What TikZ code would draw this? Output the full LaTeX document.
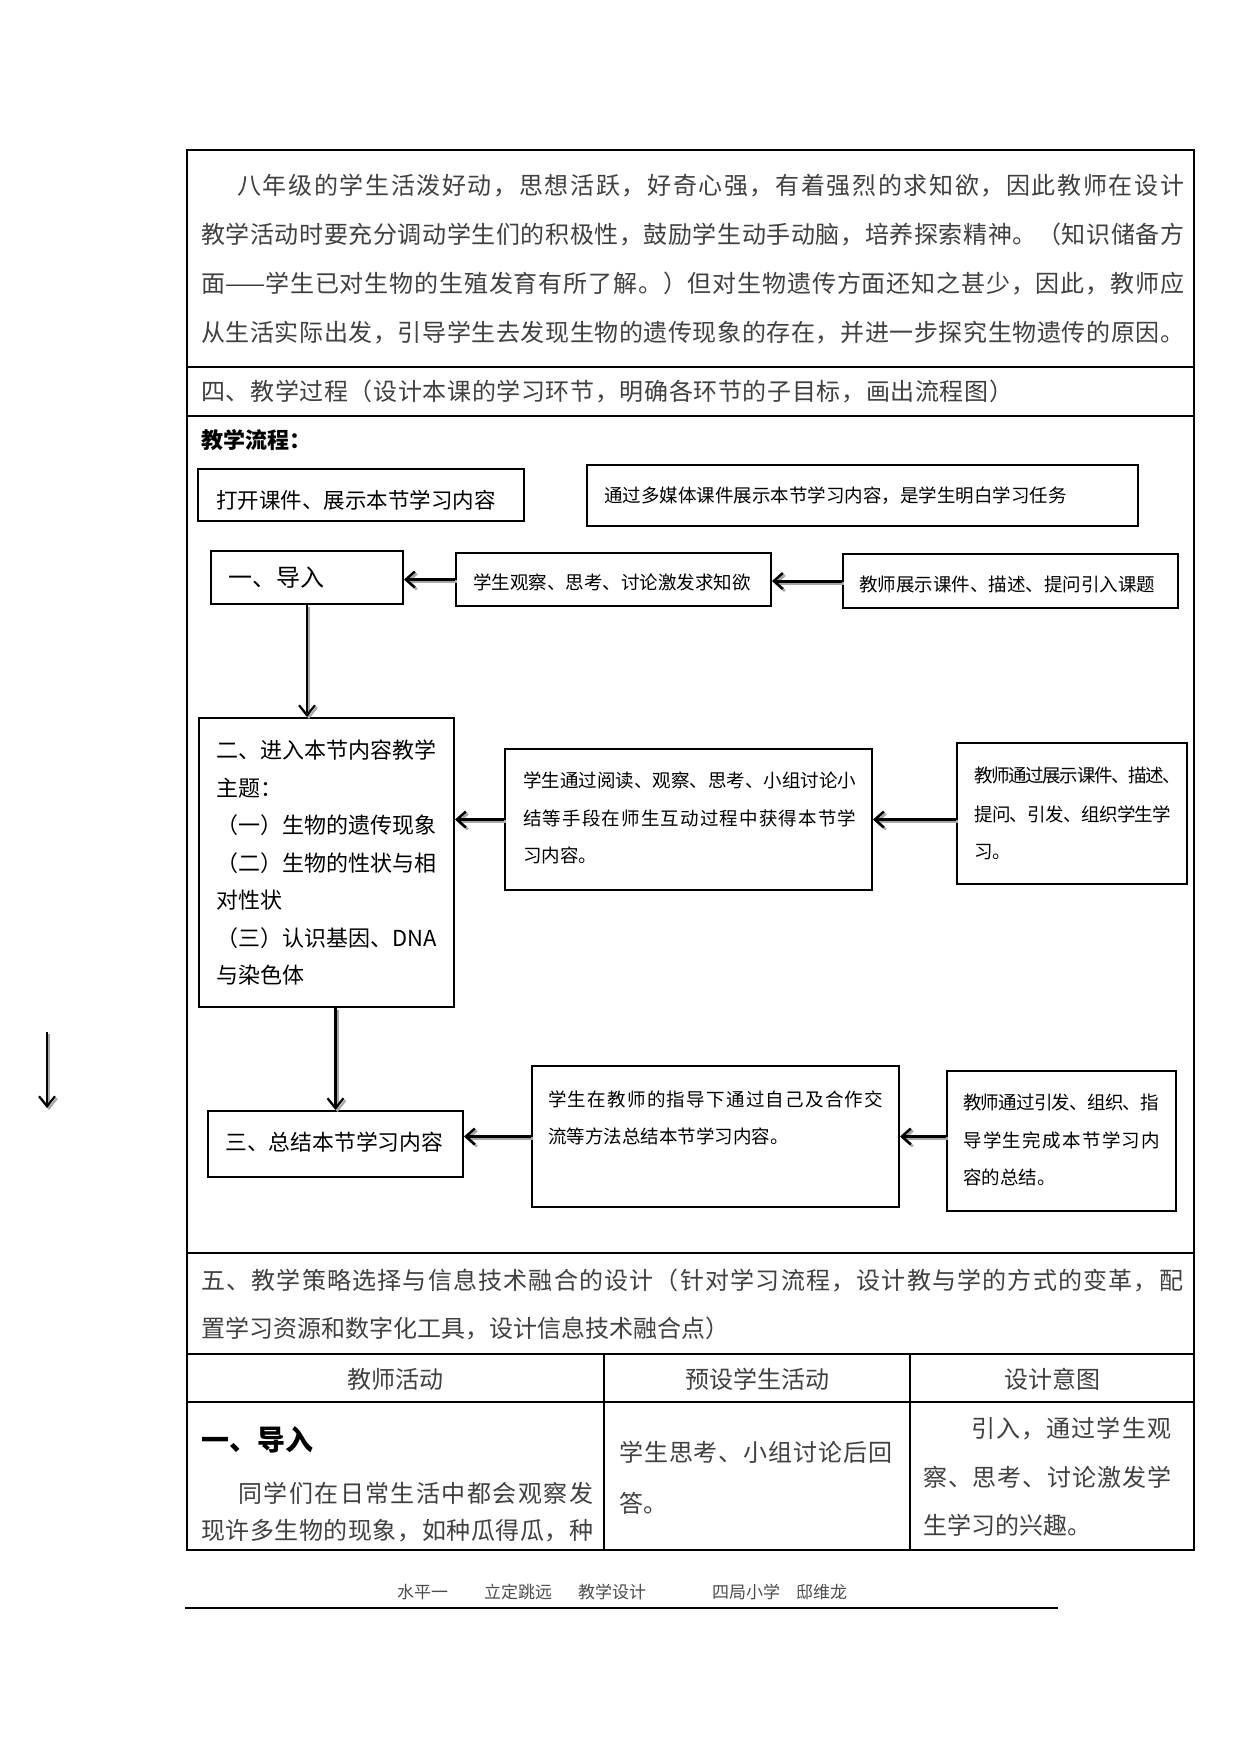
\documentclass[tikz,border=0pt]{standalone}
\usepackage{fontspec}
\setmainfont{Noto Sans CJK SC}
\usetikzlibrary{arrows.meta}
\XeTeXinterchartokenstate=1
\newXeTeXintercharclass\cjkcls
\newcount\cjkc
\def\setcjkrange#1#2{\cjkc=#1\relax\loop\XeTeXcharclass\cjkc=\cjkcls\relax\ifnum\cjkc<#2\relax\advance\cjkc by 1\repeat}
\setcjkrange{"3000}{"303F}
\setcjkrange{"4E00}{"9FFF}
\setcjkrange{"FF00}{"FFEF}
\XeTeXinterchartoks\cjkcls\cjkcls={\hskip 0pt plus 0.5em minus 0.25em\relax}
\newcommand\jl[2]{\makebox[#1pt][s]{#2}}
\newcommand\sarr[2]{\draw[arrshadow,transform canvas={xshift=2pt,yshift=-2pt}] #1 -- #2; \draw[arrmain] #1 -- #2;}
\newcommand\varr[2]{\draw[varrshadow,transform canvas={xshift=2pt,yshift=-2pt}] #1 -- #2; \draw[varrmain] #1 -- #2;}
\begin{document}
\begin{tikzpicture}[x=1pt,y=-1pt,
  every node/.style={inner sep=0pt},
  tl/.style={anchor=west,font=\fontsize{24}{24}\selectfont,text=black!75},
  hd/.style={anchor=center,font=\fontsize{24}{24}\selectfont,text=black!75},
  fl/.style={anchor=west,font=\fontsize{18.5}{18.5}\selectfont,text=black},
  ml/.style={anchor=west,font=\fontsize{22}{22}\selectfont,text=black},
  ft/.style={anchor=west,font=\fontsize{17}{17}\selectfont,text=black!70},
  flowbox/.style={draw=black,line width=2pt},
  tab/.style={draw=black,line width=1.5pt},
  arrmain/.style={line width=3pt,black,-{Straight Barb[length=9pt,width=16pt,line width=2.5pt]}},
  arrshadow/.style={line width=3pt,black!35,-{Straight Barb[length=9pt,width=16pt,line width=2.5pt]}},
  varrmain/.style={line width=2.2pt,black,-{Straight Barb[length=10pt,width=16pt,line width=2.2pt]}},
  varrshadow/.style={line width=2.2pt,black!35,-{Straight Barb[length=10pt,width=16pt,line width=2.2pt]}}
]
\fill[white] (0,0) rectangle (1241,1754);
\useasboundingbox (0,0) rectangle (1241,1754);

% table grid
\draw[tab] (187,150) rectangle (1194,1550);
\draw[tab] (187,367) -- (1194,367);
\draw[tab] (187,416) -- (1194,416);
\draw[tab] (187,1253) -- (1194,1253);
\draw[tab] (187,1354) -- (1194,1354);
\draw[tab] (187,1402) -- (1194,1402);
\draw[tab] (604,1354) -- (604,1550);
\draw[tab] (910,1354) -- (910,1550);

% paragraph
\node[tl] (p1) at (237,186) {\jl{947}{八年级的学生活泼好动，思想活跃，好奇心强，有着强烈的求知欲，因此教师在设计}};
\node[tl] (p2) at (201,235) {\jl{983}{教学活动时要充分调动学生们的积极性，鼓励学生动手动脑，培养探索精神。（知识储备方}};
\node[tl] (p3) at (201,284) {\jl{983}{面——学生已对生物的生殖发育有所了解。）但对生物遗传方面还知之甚少，因此，教师应}};
\node[tl] (p4) at (201,333) {\jl{983}{从生活实际出发，引导学生去发现生物的遗传现象的存在，并进一步探究生物遗传的原因。}};
\node[tl] (r4) at (201,392) {\jl{812}{四、教学过程（设计本课的学习环节，明确各环节的子目标，画出流程图）}};

\node[anchor=west,font=\fontsize{22}{22}\selectfont\bfseries] (lc) at (201,440) {教学流程：};

% flow boxes
\node[flowbox,minimum width=326pt,minimum height=52pt] (bA) at (361,495) {};
\node[flowbox,minimum width=551pt,minimum height=61pt] (bB) at (862.5,495.5) {};
\node[flowbox,minimum width=192pt,minimum height=53pt] (b1) at (307,577.5) {};
\node[flowbox,minimum width=315pt,minimum height=53pt] (s1) at (613.5,579.5) {};
\node[flowbox,minimum width=335pt,minimum height=54pt] (t1) at (1010.5,581) {};
\node[flowbox,minimum width=255pt,minimum height=289pt] (b2) at (326.5,862.5) {};
\node[flowbox,minimum width=367pt,minimum height=141pt] (s2) at (688.5,819.5) {};
\node[flowbox,minimum width=230pt,minimum height=141pt] (t2) at (1072,813.5) {};
\node[flowbox,minimum width=255pt,minimum height=66pt] (b3) at (335.5,1144) {};
\node[flowbox,minimum width=367pt,minimum height=141pt] (s3) at (715.5,1136.5) {};
\node[flowbox,minimum width=229pt,minimum height=140pt] (t3) at (1061.5,1141) {};

% flow texts
\node[anchor=west,font=\fontsize{21.5}{21.5}\selectfont] (tA) at (216,500) {打开课件、展示本节学习内容};
\node[fl] (tB) at (604,496) {通过多媒体课件展示本节学习内容，是学生明白学习任务};
\node[anchor=west,font=\fontsize{24}{24}\selectfont] (tb1) at (228,578) {一、导入};
\node[fl] (ts1) at (473,582) {学生观察、思考、讨论激发求知欲};
\node[fl] (tt1) at (859,584) {教师展示课件、描述、提问引入课题};

\node[ml] (m1) at (216,750) {二、进入本节内容教学};
\node[ml] (m2) at (216,788) {主题：};
\node[ml] (m3) at (216,825) {（一）生物的遗传现象};
\node[ml] (m4) at (216,863) {（二）生物的性状与相};
\node[ml] (m5) at (216,900) {对性状};
\node[ml] (m6) at (216,938) {（三）认识基因、DNA};
\node[ml] (m7) at (216,975) {与染色体};

\node[fl] (ts2a) at (523,780) {\jl{333}{学生通过阅读、观察、思考、小组讨论小}};
\node[fl] (ts2b) at (523,818) {\jl{333}{结等手段在师生互动过程中获得本节学}};
\node[fl] (ts2c) at (523,855) {习内容。};

\node[fl] (tt2a) at (974,775) {\jl{207}{教师通过展示课件、描述、}};
\node[fl] (tt2b) at (974,814) {\jl{197}{提问、引发、组织学生学}};
\node[fl] (tt2c) at (974,852) {习。};

\node[anchor=west,font=\fontsize{21.8}{21.8}\selectfont] (tb3) at (225,1142) {三、总结本节学习内容};

\node[fl] (ts3a) at (548,1099) {\jl{335}{学生在教师的指导下通过自己及合作交}};
\node[fl] (ts3b) at (548,1136) {流等方法总结本节学习内容。};

\node[fl] (tt3a) at (963,1102) {\jl{196}{教师通过引发、组织、指}};
\node[fl] (tt3b) at (963,1140) {\jl{197}{导学生完成本节学习内}};
\node[fl] (tt3c) at (963,1177) {容的总结。};

% connectors
\sarr{(s1.west)}{(s1.west -| b1.east)}
\sarr{(t1.west)}{(t1.west -| s1.east)}
\sarr{(s2.west)}{(s2.west -| b2.east)}
\sarr{(t2.west |- s2.west)}{(s2.east)}
\sarr{(s3.west)}{(s3.west -| b3.east)}
\sarr{(t3.west |- s3.east)}{(s3.east)}
\varr{(b1.south)}{(b1.south |- b2.north)}
\varr{(b3.north |- b2.south)}{(b3.north)}
\coordinate (sa) at (47,1032);
\coordinate (sb) at (47,1108);
\varr{(sa)}{(sb)}

% section five
\node[tl] (r5a) at (201,1280) {\jl{982}{五、教学策略选择与信息技术融合的设计（针对学习流程，设计教与学的方式的变革，配}};
\node[tl] (r5b) at (201,1328) {置学习资源和数字化工具，设计信息技术融合点）};
\node[hd] (h1) at (395.5,1379) {教师活动};
\node[hd] (h2) at (757,1379) {预设学生活动};
\node[hd] (h3) at (1052,1379) {设计意图};

\node[anchor=west,font=\fontsize{28}{28}\selectfont\bfseries] (c1t) at (201,1440) {一、导入};
\node[tl] (c1a) at (238,1493) {\jl{355}{同学们在日常生活中都会观察发}};
\node[tl] (c1b) at (201,1531) {\jl{392}{现许多生物的现象，如种瓜得瓜，种}};
\node[tl] (c2a) at (619,1452) {\jl{273}{学生思考、小组讨论后回}};
\node[tl] (c2b) at (619,1503) {答。};
\node[tl] (c3a) at (971,1429) {\jl{200}{引入，通过学生观}};
\node[tl] (c3b) at (923,1477) {\jl{248}{察、思考、讨论激发学}};
\node[tl] (c3c) at (923,1525) {生学习的兴趣。};

% footer
\node[ft] (f1) at (397,1592) {水平一};
\node[ft] (f2) at (484,1592) {立定跳远};
\node[ft] (f3) at (578,1592) {教学设计};
\node[ft] (f4) at (712,1592) {四局小学};
\node[ft] (f5) at (796,1592) {邸维龙};
\coordinate (fl1) at (185,1608);
\coordinate (fl2) at (1058,1608);
\draw[line width=2pt] (fl1) -- (fl2);
\end{tikzpicture}
\end{document}
